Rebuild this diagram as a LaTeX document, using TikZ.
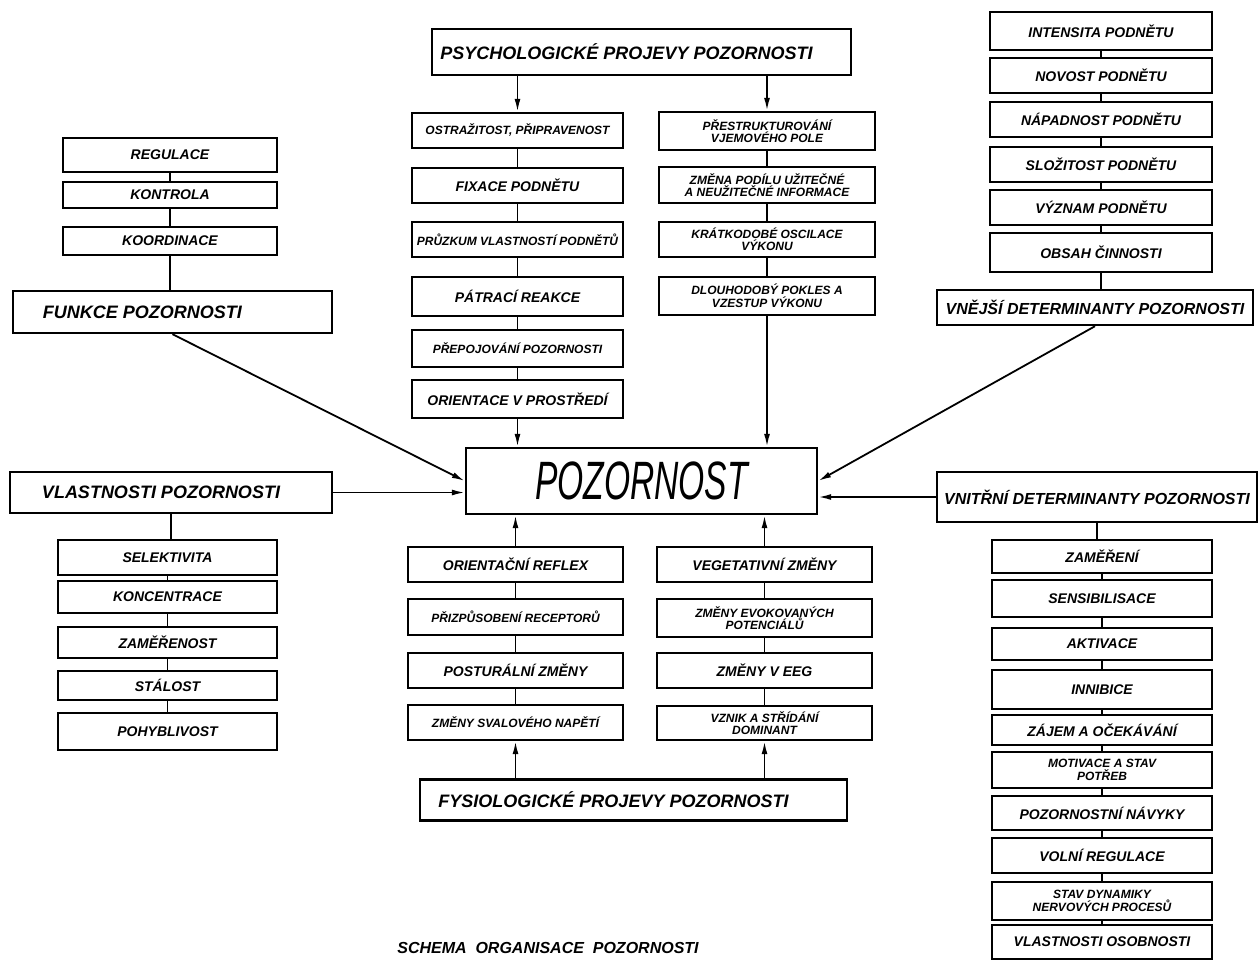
\documentclass[tikz,border=0pt]{standalone}
\usepackage{fontspec}
\usepackage{graphicx}
\setmainfont{Liberation Sans}
\usetikzlibrary{arrows.meta}

\newcommand{\itemfont}{\fontsize{14}{13}\selectfont\bfseries\itshape}
\newcommand{\tightfont}{\fontsize{12}{12.5}\selectfont\bfseries\itshape}
\newcommand{\headfont}{\fontsize{18}{20}\selectfont\bfseries\itshape}
\newcommand{\detfont}{\fontsize{16}{18}\selectfont\bfseries\itshape}

\begin{document}
\begin{tikzpicture}[x=1pt,y=-1pt,
		box/.style={draw,line width=2.4pt,inner sep=1pt,align=center,font=\itemfont},
		tight/.style={font=\tightfont},
		head/.style={box,font=\headfont},
		con/.style={line width=1.8pt},
		arr/.style={con,-{Latex[length=13pt,width=6pt]}}]
	\useasboundingbox (0,0) rectangle (1259,962);
	% psychologicke projevy
	\node [head,minimum width=419,minimum height=46] (psy) at (641.5,52) {PSYCHOLOGICKÉ PROJEVY POZORNOSTI\hspace{30pt}};
	\node [box,tight,minimum width=211,minimum height=35] (ostr) at (517.5,130.5) {OSTRAŽITOST, PŘIPRAVENOST};
	\node [box,minimum width=211,minimum height=35] (fix) at (517.5,185.5) {FIXACE PODNĚTU};
	\node [box,tight,minimum width=211,minimum height=35] (pruz) at (517.5,239.5) {PRŮZKUM VLASTNOSTÍ PODNĚTŮ};
	\node [box,minimum width=211,minimum height=39] (patr) at (517.5,296.5) {PÁTRACÍ REAKCE};
	\node [box,tight,minimum width=211,minimum height=37] (prep) at (517.5,348.5) {PŘEPOJOVÁNÍ POZORNOSTI};
	\node [box,minimum width=211,minimum height=38] (orpr) at (517.5,399) {ORIENTACE V PROSTŘEDÍ};
	\node [box,tight,minimum width=216,minimum height=38] (pres) at (767,131) {PŘESTRUKTUROVÁNÍ\\VJEMOVÉHO POLE};
	\node [box,tight,minimum width=216,minimum height=36] (zmena) at (767,185) {ZMĚNA PODÍLU UŽITEČNÉ\\A NEUŽITEČNÉ INFORMACE};
	\node [box,tight,minimum width=216,minimum height=35] (krat) at (767,239.5) {KRÁTKODOBÉ OSCILACE\\VÝKONU};
	\node [box,tight,minimum width=216,minimum height=38] (dlou) at (767,296) {DLOUHODOBÝ POKLES A\\VZESTUP VÝKONU};
	% pozornost
	\node [draw,line width=2.4pt,minimum width=351,minimum height=66,font=\fontsize{40}{40}\selectfont\itshape] (poz) at (641.5,481) {\scalebox{0.84}[1.35]{POZORNOST}};
	% fysiologicke projevy
	\node [box,minimum width=215,minimum height=35] (oref) at (515.5,564.5) {ORIENTAČNÍ REFLEX};
	\node [box,tight,minimum width=215,minimum height=36] (prizp) at (515.5,617) {PŘIZPŮSOBENÍ RECEPTORŮ};
	\node [box,minimum width=215,minimum height=35] (post) at (515.5,670.5) {POSTURÁLNÍ ZMĚNY};
	\node [box,tight,minimum width=215,minimum height=35] (sval) at (515.5,722.5) {ZMĚNY SVALOVÉHO NAPĚTÍ};
	\node [box,minimum width=215,minimum height=35] (veg) at (764.5,564.5) {VEGETATIVNÍ ZMĚNY};
	\node [box,tight,minimum width=215,minimum height=38] (evok) at (764.5,618) {ZMĚNY EVOKOVANÝCH\\POTENCIÁLŮ};
	\node [box,minimum width=215,minimum height=35] (eeg) at (764.5,670.5) {ZMĚNY V EEG};
	\node [box,tight,minimum width=215,minimum height=34] (vznik) at (764.5,723) {VZNIK A STŘÍDÁNÍ\\DOMINANT};
	\node [head,minimum width=427,minimum height=41] (fys) at (633.5,800) {FYSIOLOGICKÉ PROJEVY POZORNOSTI\hspace{40pt}};
	% funkce
	\node [box,minimum width=214,minimum height=34] (reg) at (170,155) {REGULACE};
	\node [box,minimum width=214,minimum height=26] (kontr) at (170,195) {KONTROLA};
	\node [box,minimum width=214,minimum height=28] (koord) at (170,241) {KOORDINACE};
	\node [head,minimum width=319,minimum height=42] (funk) at (172.5,312) {FUNKCE POZORNOSTI\hspace{60pt}};
	% vlastnosti
	\node [head,minimum width=322,minimum height=41] (vlast) at (171,492.5) {VLASTNOSTI POZORNOSTI\hspace{20pt}};
	\node [box,minimum width=219,minimum height=35] (sel) at (167.5,557.5) {SELEKTIVITA};
	\node [box,minimum width=219,minimum height=32] (konc) at (167.5,597) {KONCENTRACE};
	\node [box,minimum width=219,minimum height=31] (zamost) at (167.5,642.5) {ZAMĚŘENOST};
	\node [box,minimum width=219,minimum height=29] (stal) at (167.5,685.5) {STÁLOST};
	\node [box,minimum width=219,minimum height=37] (pohyb) at (167.5,731.5) {POHYBLIVOST};
	% vnejsi determinanty
	\node [box,minimum width=222,minimum height=38] (int) at (1101,31) {INTENSITA PODNĚTU};
	\node [box,minimum width=222,minimum height=35] (nov) at (1101,75.5) {NOVOST PODNĚTU};
	\node [box,minimum width=222,minimum height=35] (nap) at (1101,119.5) {NÁPADNOST PODNĚTU};
	\node [box,minimum width=222,minimum height=35] (slo) at (1101,164.5) {SLOŽITOST PODNĚTU};
	\node [box,minimum width=222,minimum height=35] (vyz) at (1101,207.5) {VÝZNAM PODNĚTU};
	\node [box,minimum width=222,minimum height=39] (obs) at (1101,252.5) {OBSAH ČINNOSTI};
	\node [box,font=\detfont,minimum width=316,minimum height=35] (vnej) at (1095,307.5) {VNĚJŠÍ DETERMINANTY POZORNOSTI};
	% vnitrni determinanty
	\node [box,font=\detfont,minimum width=320,minimum height=50] (vnitr) at (1097,497) {VNITŘNÍ DETERMINANTY POZORNOSTI};
	\node [box,minimum width=220,minimum height=33] (zamr) at (1102,556.5) {ZAMĚŘENÍ};
	\node [box,minimum width=220,minimum height=37] (sens) at (1102,598.5) {SENSIBILISACE};
	\node [box,minimum width=220,minimum height=32] (akt) at (1102,644) {AKTIVACE};
	\node [box,minimum width=220,minimum height=39] (inn) at (1102,689.5) {INNIBICE};
	\node [box,minimum width=220,minimum height=30] (zaj) at (1102,730) {ZÁJEM A OČEKÁVÁNÍ};
	\node [box,tight,minimum width=220,minimum height=36] (mot) at (1102,770) {MOTIVACE A STAV\\POTŘEB};
	\node [box,minimum width=220,minimum height=34] (navyk) at (1102,813) {POZORNOSTNÍ NÁVYKY};
	\node [box,minimum width=220,minimum height=35] (vol) at (1102,855.5) {VOLNÍ REGULACE};
	\node [box,tight,minimum width=220,minimum height=38] (stav) at (1102,901) {STAV DYNAMIKY\\NERVOVÝCH PROCESŮ};
	\node [box,minimum width=220,minimum height=34] (osob) at (1102,942) {VLASTNOSTI OSOBNOSTI};
	% popisek
	\node [font=\fontsize{16}{16}\selectfont\bfseries\itshape] (popis) at (548,948) {SCHEMA\ \ ORGANISACE\ \ POZORNOSTI};
	% spoje nahore
	\draw [arr] (psy.south -| ostr.north) -- (ostr.north);
	\draw [arr] (psy.south -| pres.north) -- (pres.north);
	\draw [con] (ostr.south) -- (fix.north);
	\draw [con] (fix.south) -- (pruz.north);
	\draw [con] (pruz.south) -- (patr.north);
	\draw [con] (patr.south) -- (prep.north);
	\draw [con] (prep.south) -- (orpr.north);
	\draw [arr] (orpr.south) -- (orpr.south |- poz.north);
	\draw [con] (pres.south) -- (zmena.north);
	\draw [con] (zmena.south) -- (krat.north);
	\draw [con] (krat.south) -- (dlou.north);
	\draw [arr] (dlou.south) -- (dlou.south |- poz.north);
	% spoje dole
	\draw [arr] (oref.north) -- (oref.north |- poz.south);
	\draw [arr] (veg.north) -- (veg.north |- poz.south);
	\draw [con] (oref.south) -- (prizp.north);
	\draw [con] (prizp.south) -- (post.north);
	\draw [con] (post.south) -- (sval.north);
	\draw [con] (veg.south) -- (evok.north);
	\draw [con] (evok.south) -- (eeg.north);
	\draw [con] (eeg.south) -- (vznik.north);
	\draw [arr] (fys.north -| sval.south) -- (sval.south);
	\draw [arr] (fys.north -| vznik.south) -- (vznik.south);
	% vlevo
	\draw [con] (reg.south) -- (kontr.north);
	\draw [con] (kontr.south) -- (koord.north);
	\draw [con] (koord.south) -- (funk.north -| koord.south);
	\draw [arr] (funk.south) -- (poz.west);
	\draw [arr] (vlast.east) -- (vlast.east -| poz.west);
	\draw [con] (vlast.south) -- (sel.north -| vlast.south);
	\draw [con] (sel.south) -- (konc.north);
	\draw [con] (konc.south) -- (zamost.north);
	\draw [con] (zamost.south) -- (stal.north);
	\draw [con] (stal.south) -- (pohyb.north);
	% vpravo
	\draw [con] (int.south) -- (nov.north);
	\draw [con] (nov.south) -- (nap.north);
	\draw [con] (nap.south) -- (slo.north);
	\draw [con] (slo.south) -- (vyz.north);
	\draw [con] (vyz.south) -- (obs.north);
	\draw [con] (obs.south) -- (vnej.north -| obs.south);
	\draw [arr] (vnej.south) -- (poz.east);
	\draw [arr] (vnitr.west) -- (vnitr.west -| poz.east);
	\draw [con] (vnitr.south) -- (zamr.north -| vnitr.south);
	\draw [con] (zamr.south) -- (sens.north);
	\draw [con] (sens.south) -- (akt.north);
	\draw [con] (akt.south) -- (inn.north);
	\draw [con] (inn.south) -- (zaj.north);
	\draw [con] (zaj.south) -- (mot.north);
	\draw [con] (mot.south) -- (navyk.north);
	\draw [con] (navyk.south) -- (vol.north);
	\draw [con] (vol.south) -- (stav.north);
	\draw [con] (stav.south) -- (osob.north);
\end{tikzpicture}
\end{document}
